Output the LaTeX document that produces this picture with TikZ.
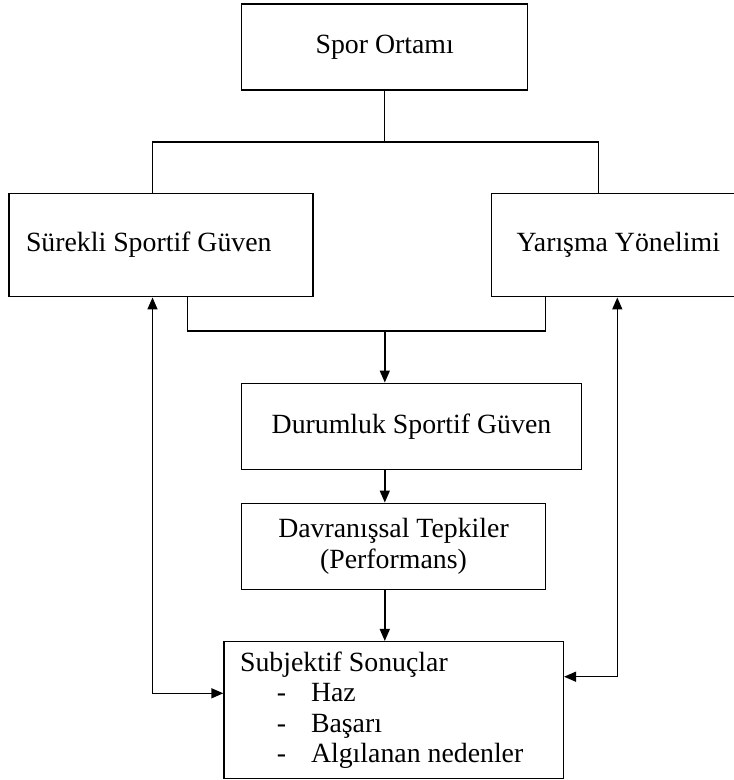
\documentclass[tikz,border=0pt]{standalone}
\usepackage{fontspec}
\setmainfont{Liberation Serif}
\usepackage{tikz}
\usetikzlibrary{arrows.meta, positioning, calc}

\newcommand{\madde}[1]{\hspace*{36.7pt}\makebox[34.3pt][l]{-}#1}

\begin{document}
\begin{tikzpicture}[
    x=1pt, y=-1pt,
    kutu/.style={rectangle, draw, line width=1.5pt, inner sep=0pt, align=center,
        font=\fontsize{27.8}{30.5}\selectfont},
    hat/.style={line width=1.5pt},
    ok/.style={-{Triangle[length=12pt, width=10pt]}, line width=1.5pt},
    ikili/.style={{Triangle[length=12pt, width=10pt]}-{Triangle[length=12pt, width=10pt]}, line width=1.5pt}
]
\useasboundingbox (0,0) rectangle (734,780);

% Nodes
\node[kutu, minimum width=286pt, minimum height=86pt] (spor) at (384.7,47) {Spor Ortamı};
\node[kutu, minimum height=103.4pt, inner xsep=17pt, text width=270pt, align=flush left] (surekli) at (161,245) {Sürekli Sportif Güven};
\node[kutu, minimum width=253.3pt, minimum height=103.4pt] (yarisma) at (618.3,245) {Yarışma Yönelimi};
\node[kutu, minimum width=339.6pt, minimum height=86pt] (durumluk) at (411.5,426.3) {Durumluk Sportif Güven};
\node[kutu, minimum width=303.6pt, minimum height=86.4pt] (davranis) at (393.5,546.5) {Davranışsal Tepkiler\\(Performans)};
\node[kutu, minimum height=137pt, inner xsep=16pt, text width=307.3pt, align=flush left] (subjektif) at (393.7,710.2)
    {Subjektif Sonuçlar\\\madde{Haz}\\\madde{Başarı}\\\madde{Algılanan nedenler}};

% Coordinates
\coordinate (solhat) at (152.5,142);
\coordinate (saghat) at (598.7,142);
\coordinate (sol2) at (187.7,331);
\coordinate (sag2) at (545.3,331);
\coordinate (orta) at (384.8,331);
\coordinate (geri1) at (152.5,693.3);
\coordinate (geri2) at (617.3,676.7);

% Connections
\draw[hat] (spor.south) -- (spor.south |- solhat);
\draw[hat] (solhat |- surekli.north) -- (solhat) -- (saghat) -- (saghat |- yarisma.north);
\draw[hat] (sol2 |- surekli.south) -- (sol2) -- (sag2) -- (sag2 |- yarisma.south);
\draw[ok] (orta) -- (orta |- durumluk.north);
\draw[ok] (orta |- durumluk.south) -- (orta |- davranis.north);
\draw[ok] (orta |- davranis.south) -- (orta |- subjektif.north);
\draw[ikili] (geri1 |- surekli.south) -- (geri1) -- (geri1 -| subjektif.west);
\draw[ikili] (geri2 |- yarisma.south) -- (geri2) -- (geri2 -| subjektif.east);

\end{tikzpicture}
\end{document}
